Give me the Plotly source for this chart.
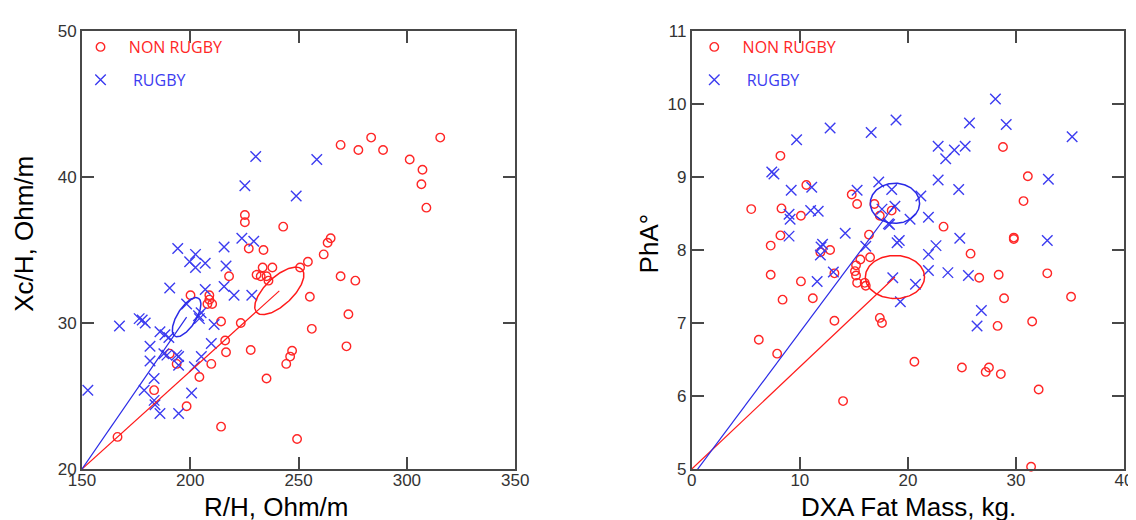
import numpy as np
import plotly.graph_objects as go

# ---------------- data: left panel (R/H vs Xc/H) ----------------
left_non_rugby_x = [269.4, 277.6, 283.5, 289.0, 315.4, 301.3, 307.2, 306.7, 309.0, 225.2,
                    225.2, 242.9, 227.0, 233.8, 264.8, 263.4, 261.6, 254.3, 250.7, 233.4,
                    237.9, 230.6, 232.5, 235.2, 236.1, 217.9, 269.4, 276.2, 255.2, 273.0,
                    256.1, 227.9, 272.1, 247.0, 246.1, 244.3, 235.2, 249.3, 166.4, 214.2,
                    198.3, 183.3, 204.2, 209.7, 193.7, 190.5, 216.5, 216.1, 223.3, 214.2,
                    200.1, 208.8, 208.8, 207.9, 210.1]
left_non_rugby_y = [42.2, 41.85, 42.7, 41.85, 42.7, 41.2, 40.5, 39.5, 37.9, 37.4,
                    36.9, 36.6, 35.1, 35.0, 35.8, 35.5, 34.7, 34.2, 33.8, 33.8,
                    33.8, 33.3, 33.2, 33.2, 32.9, 33.2, 33.2, 32.9, 31.8, 30.6,
                    29.6, 28.15, 28.4, 28.1, 27.7, 27.2, 26.2, 22.05, 22.2, 22.9,
                    24.3, 25.4, 26.3, 27.2, 27.2, 27.9, 28.0, 28.8, 30.0, 30.1,
                    31.9, 31.9, 31.6, 31.3, 31.3]

left_rugby_x = [230.2, 258.4, 225.2, 248.9, 223.8, 229.3, 194.2, 215.6, 199.7, 202.4,
                206.9, 202.4, 216.5, 190.5, 206.9, 215.6, 220.2, 228.4, 198.3, 203.8,
                204.2, 205.0, 211.0, 176.4, 177.8, 179.2, 167.3, 186.0, 188.3, 190.1,
                181.4, 209.7, 187.8, 189.2, 193.7, 194.6, 205.1, 181.4, 194.6, 201.9,
                183.3, 152.7, 178.7, 200.6, 183.3, 183.7, 186.0, 194.6]
left_rugby_y = [41.4, 41.2, 39.4, 38.7, 35.8, 35.6, 35.1, 35.2, 34.2, 34.7,
                34.1, 33.8, 33.9, 32.4, 32.3, 32.5, 31.9, 31.9, 31.3, 30.5,
                30.3, 30.7, 29.9, 30.3, 30.2, 30.0, 29.8, 29.4, 29.2, 29.0,
                28.4, 28.6, 27.9, 27.8, 27.8, 27.7, 27.7, 27.4, 27.1, 27.0,
                26.2, 25.4, 25.4, 25.2, 24.7, 24.4, 23.8, 23.8]

# mean vectors (origin -> group mean) and confidence ellipses (centre, half-axis vectors)
left_red_vector_x = [150, 241.1]
left_red_vector_y = [20, 32.2]
left_blue_vector_x = [150, 198.3]
left_blue_vector_y = [20, 30.4]
left_red_ellipse_center = [241.1, 32.2]
left_red_ellipse_axis_u = [10.48, 1.47]
left_red_ellipse_axis_v = [4.33, -0.70]
left_blue_ellipse_center = [198.3, 30.4]
left_blue_ellipse_axis_u = [5.47, 1.30]
left_blue_ellipse_axis_v = [3.69, -0.34]

# ---------------- data: right panel (DXA fat mass vs PhA) ----------------
right_non_rugby_x = [8.2, 5.5, 8.3, 10.1, 10.6, 8.2, 7.3, 11.9, 12.8, 14.8,
                     15.3, 16.9, 16.4, 16.5, 7.3, 10.1, 11.2, 8.4, 13.2, 18.5,
                     15.2, 15.1, 15.2, 15.6, 15.3, 16.0, 16.1, 13.2, 6.2, 7.9,
                     14.0, 17.4, 17.6, 20.6, 25.0, 27.5, 27.2, 28.6, 32.1, 31.4,
                     26.6, 28.4, 32.9, 28.9, 35.1, 28.3, 31.5, 28.8, 31.1, 30.7,
                     23.3, 29.8, 29.8, 25.8, 17.4]
right_non_rugby_y = [9.29, 8.56, 8.57, 8.47, 8.89, 8.2, 8.06, 7.97, 8.0, 8.76,
                     8.63, 8.63, 8.21, 7.9, 7.66, 7.57, 7.34, 7.32, 7.68, 8.54,
                     7.79, 7.71, 7.65, 7.87, 7.55, 7.55, 7.51, 7.03, 6.77, 6.58,
                     5.93, 7.07, 7.0, 6.47, 6.39, 6.39, 6.33, 6.3, 6.09, 5.03,
                     7.62, 7.66, 7.68, 7.34, 7.36, 6.96, 7.02, 9.41, 9.01, 8.67,
                     8.32, 8.17, 8.15, 7.95, 8.47]

right_rugby_x = [12.8, 16.6, 9.7, 7.4, 7.6, 9.2, 11.1, 15.3, 17.3, 9.0,
                 9.1, 11.0, 11.7, 9.0, 14.2, 16.1, 12.1, 11.96, 11.9, 11.6,
                 13.1, 18.5, 18.8, 17.6, 18.3, 19.0, 18.6, 19.3, 28.1, 18.9,
                 25.7, 29.1, 35.2, 22.8, 24.3, 25.3, 23.5, 22.8, 24.7, 33.0,
                 21.2, 20.2, 21.9, 18.2, 24.8, 19.2, 32.9, 22.6, 21.9, 21.9,
                 23.7, 25.6, 20.7, 26.8, 26.4]
right_rugby_y = [9.67, 9.61, 9.51, 9.07, 9.04, 8.82, 8.86, 8.82, 8.93, 8.49,
                 8.42, 8.54, 8.53, 8.19, 8.23, 8.05, 8.08, 8.04, 7.93, 7.57,
                 7.7, 8.83, 8.6, 8.56, 8.35, 8.1, 7.62, 7.29, 10.07, 9.78,
                 9.74, 9.72, 9.55, 9.42, 9.37, 9.42, 9.25, 8.96, 8.83, 8.97,
                 8.74, 8.42, 8.45, 8.36, 8.16, 8.13, 8.13, 8.06, 7.94, 7.72,
                 7.69, 7.65, 7.53, 7.17, 6.96]

right_red_vector_x = [0, 18.8]
right_red_vector_y = [5, 7.63]
right_blue_vector_x = [0.2, 18.8]
right_blue_vector_y = [4.93, 8.62]
right_red_ellipse_center = [18.8, 7.63]
right_red_ellipse_axis_u = [2.74, 0.0]
right_red_ellipse_axis_v = [0.0, 0.295]
right_blue_ellipse_center = [18.8, 8.64]
right_blue_ellipse_axis_u = [2.28, 0.0]
right_blue_ellipse_axis_v = [0.0, 0.275]

# ---------------- text ----------------
legend_labels = ["NON RUGBY", "RUGBY"]
left_x_title = "R/H, Ohm/m"
left_y_title = "Xc/H, Ohm/m"
right_x_title = "DXA Fat Mass, kg."
right_y_title = "PhA°"

# ---------------- style ----------------
RED = "#ff2626"
BLUE = "#3c3cf0"
RED_LINE = "#ff1a1a"
BLUE_LINE = "#2a2ae6"
AXIS = "#484848"

W, H = 1136, 520
PLOT_L, PLOT_R, PLOT_T, PLOT_B = 74, 1130, 23, 461
PW, PH = PLOT_R - PLOT_L, PLOT_B - PLOT_T


def px_x(p):  # pixel -> paper x
    return (p - PLOT_L) / PW


def px_y(p):  # pixel -> paper y
    return (PLOT_B - p) / PH


def ellipse(center, u, v, n=160):
    t = np.linspace(0, 2 * np.pi, n)
    return (center[0] + u[0] * np.cos(t) + v[0] * np.sin(t),
            center[1] + u[1] * np.cos(t) + v[1] * np.sin(t))


fig = go.Figure()

panels = [
    dict(xa="x", ya="y", legend="legend",
         nr=(left_non_rugby_x, left_non_rugby_y), rg=(left_rugby_x, left_rugby_y),
         rv=(left_red_vector_x, left_red_vector_y), bv=(left_blue_vector_x, left_blue_vector_y),
         re=(left_red_ellipse_center, left_red_ellipse_axis_u, left_red_ellipse_axis_v),
         be=(left_blue_ellipse_center, left_blue_ellipse_axis_u, left_blue_ellipse_axis_v)),
    dict(xa="x2", ya="y2", legend="legend2",
         nr=(right_non_rugby_x, right_non_rugby_y), rg=(right_rugby_x, right_rugby_y),
         rv=(right_red_vector_x, right_red_vector_y), bv=(right_blue_vector_x, right_blue_vector_y),
         re=(right_red_ellipse_center, right_red_ellipse_axis_u, right_red_ellipse_axis_v),
         be=(right_blue_ellipse_center, right_blue_ellipse_axis_u, right_blue_ellipse_axis_v)),
]

for p in panels:
    fig.add_trace(go.Scatter(
        x=p["nr"][0], y=p["nr"][1], mode="markers", xaxis=p["xa"], yaxis=p["ya"],
        name=f'<span style="color:{RED}">\u00a0\u00a0{legend_labels[0]}</span>',
        legend=p["legend"], legendgroup="a" + p["legend"],
        marker=dict(symbol="circle-open", size=8.5, color=RED, line=dict(width=1.4, color=RED)),
        cliponaxis=False))
    fig.add_trace(go.Scatter(
        x=p["rg"][0], y=p["rg"][1], mode="markers", xaxis=p["xa"], yaxis=p["ya"],
        name=f'<span style="color:{BLUE}">\u00a0\u00a0\u00a0{legend_labels[1]}</span>',
        legend=p["legend"], legendgroup="b" + p["legend"],
        marker=dict(symbol="x-thin-open", size=10.5, color=BLUE, line=dict(width=1.4, color=BLUE)),
        cliponaxis=False))
    for vec, col in ((p["rv"], RED_LINE), (p["bv"], BLUE_LINE)):
        fig.add_trace(go.Scatter(x=vec[0], y=vec[1], mode="lines", xaxis=p["xa"], yaxis=p["ya"],
                                 line=dict(color=col, width=1.2), showlegend=False, hoverinfo="skip"))
    for ell, col in ((p["re"], RED_LINE), (p["be"], BLUE_LINE)):
        ex, ey = ellipse(*ell)
        fig.add_trace(go.Scatter(x=ex, y=ey, mode="lines", xaxis=p["xa"], yaxis=p["ya"],
                                 line=dict(color=col, width=1.5), showlegend=False, hoverinfo="skip"))

axis_common = dict(showgrid=False, zeroline=False, showline=True, linecolor=AXIS, linewidth=2,
                   mirror="ticks", ticks="inside", ticklen=12, tickwidth=2, tickcolor=AXIS,
                   tickfont=dict(family="Liberation Sans, Arial, sans-serif", size=17, color="#333333"))

LEFT_DOMAIN = [0.0, px_x(513)]
RIGHT_DOMAIN = [px_x(692), 1.0]

legend_common = dict(xanchor="left", yanchor="top", bgcolor="rgba(0,0,0,0)",
                     font=dict(family="Open Sans, sans-serif", size=16), tracegroupgap=9,
                     traceorder="grouped", itemwidth=30)

fig.update_layout(
    width=W, height=H,
    margin=dict(l=PLOT_L, r=W - PLOT_R, t=PLOT_T, b=H - PLOT_B),
    paper_bgcolor="white", plot_bgcolor="white",
    xaxis=dict(domain=LEFT_DOMAIN, range=[150, 350], dtick=50, anchor="y", ticklabelstandoff=-5, **axis_common),
    yaxis=dict(domain=[0, 1], range=[20, 50], dtick=10, anchor="x", **axis_common),
    xaxis2=dict(domain=RIGHT_DOMAIN, range=[0, 40], dtick=10, anchor="y2", ticklabelstandoff=-5, **axis_common),
    yaxis2=dict(domain=[0, 1], range=[5, 11], dtick=1, anchor="x2", **axis_common),
    legend=dict(x=px_x(72.5), y=px_y(22), **legend_common),
    legend2=dict(x=px_x(694.5), y=px_y(22), **legend_common),
    showlegend=True,
)

title_font = dict(family="Liberation Sans, Arial, sans-serif", size=26, color="black")
fig.add_annotation(text=left_x_title, xref="paper", yref="paper", x=px_x(271), y=px_y(499),
                   xanchor="center", yanchor="middle", showarrow=False, font=title_font)
fig.add_annotation(text=right_x_title, xref="paper", yref="paper", x=px_x(912), y=px_y(499),
                   xanchor="center", yanchor="middle", showarrow=False, font=title_font)
fig.add_annotation(text=left_y_title, xref="paper", yref="paper", x=px_x(15), y=px_y(226),
                   xanchor="center", yanchor="middle", showarrow=False, textangle=-90, font=title_font)
fig.add_annotation(text=right_y_title, xref="paper", yref="paper", x=px_x(649), y=px_y(235),
                   xanchor="center", yanchor="middle", showarrow=False, textangle=-90, font=title_font)

fig.write_html("out.html")
